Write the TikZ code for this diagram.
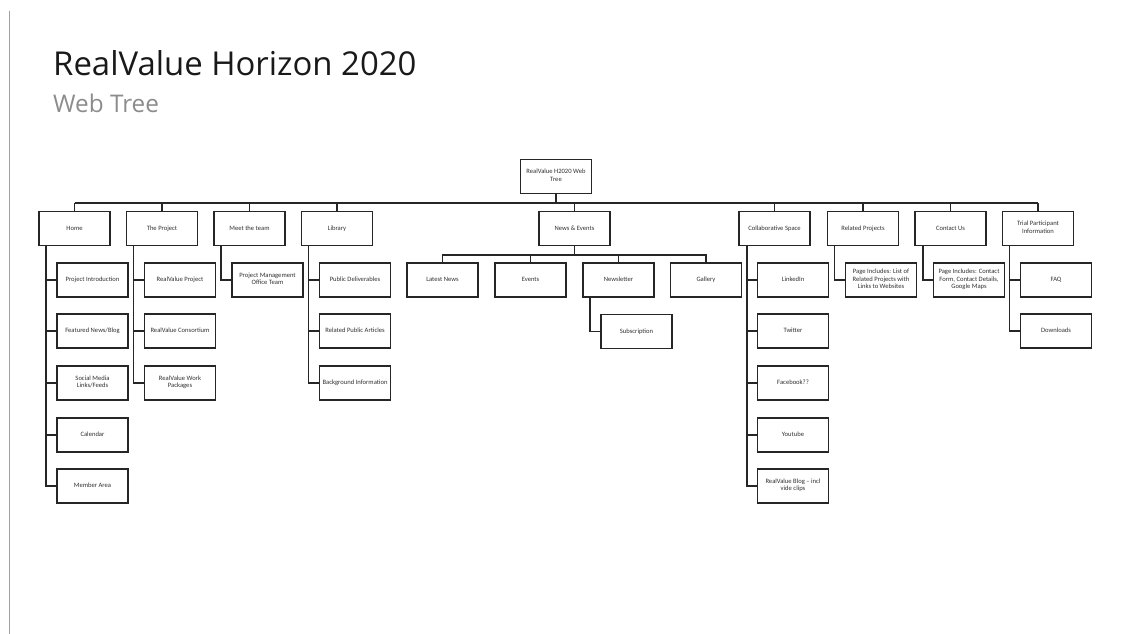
\documentclass[tikz,border=0pt]{standalone}
\usepackage{fontspec}
\setmainfont{Carlito}
\newfontfamily\titlefont{Open Sans}
\definecolor{boxtext}{HTML}{303030}
\definecolor{subgray}{HTML}{8C8C8C}
\definecolor{rulegray}{HTML}{A0A0A0}
\begin{document}
\begin{tikzpicture}[x=1pt,y=-1pt,
  box/.style={draw=black!85, line width=1.8pt, minimum width=71pt, minimum height=34pt,
    inner sep=1pt, align=center, font=\fontsize{6.6}{7.6}\selectfont, text=boxtext,
    execute at begin node={\strut}},
  conn/.style={draw=black!85, line width=1.5pt}]
\useasboundingbox (0,0) rectangle (1132,634);
\draw[rulegray, line width=1.2pt] (9.5,11) coordinate (r1) -- (9.5,634) coordinate (r2);
\node[anchor=base west, inner sep=0pt, font=\titlefont\fontsize{32.9}{38}\selectfont, text=black!90] (title) at (53,76) {RealValue Horizon 2020};
\node[anchor=base west, inner sep=0pt, font=\titlefont\fontsize{24.3}{28}\selectfont, text=subgray] (subtitle) at (53,112) {Web Tree};

% root
\node[box] (root) at (556,176.5) {RealValue H2020 Web\\Tree};
% level 1
\node[box] (home) at (74.5,228.5) {Home};
\node[box] (proj) at (162,228.5) {The Project};
\node[box] (meet) at (249.5,228.5) {Meet the team};
\node[box] (lib) at (337,228.5) {Library};
\node[box] (news) at (574.5,228.5) {News \& Events};
\node[box] (collab) at (774.5,228.5) {Collaborative Space};
\node[box] (rel) at (863,228.5) {Related Projects};
\node[box] (contact) at (950.5,228.5) {Contact Us};
\node[box] (trial) at (1038,228.5) {Trial Participant\\Information};

\coordinate (busL) at (74.5,203);
\coordinate (busR) at (1038,203);
\draw[conn] (busL) -- (busR);
\draw[conn] (root.south) -- (root.south |- busL);
\foreach \n in {home,proj,meet,lib,news,collab,rel,contact,trial}
  \draw[conn] (\n.north) -- (\n.north |- busL);

% Home children
\node[box] (h1) at (92.5,280) {Project Introduction};
\node[box] (h2) at (92.5,331) {Featured News/Blog};
\node[box] (h3) at (92.5,383) {Social Media\\Links/Feeds};
\node[box] (h4) at (92.5,435) {Calendar};
\node[box] (h5) at (92.5,486) {Member Area};
\draw[conn] ([xshift=8pt]home.south west) coordinate (hs) |- (h5.west);
\foreach \c in {h1,h2,h3,h4} \draw[conn] (\c.west) -- (\c.west -| hs);

% The Project children
\node[box] (p1) at (180,280) {RealValue Project};
\node[box] (p2) at (180,331) {RealValue Consortium};
\node[box] (p3) at (180,383) {RealValue Work\\Packages};
\draw[conn] ([xshift=8pt]proj.south west) coordinate (ps) |- (p3.west);
\foreach \c in {p1,p2} \draw[conn] (\c.west) -- (\c.west -| ps);

% Meet the team child
\node[box] (m1) at (267.5,280) {Project Management\\Office Team};
\draw[conn] ([xshift=8pt]meet.south west) |- (m1.west);

% Library children
\node[box] (l1) at (355,280) {Public Deliverables};
\node[box] (l2) at (355,331) {Related Public Articles};
\node[box] (l3) at (355,383) {Background Information};
\draw[conn] ([xshift=8pt]lib.south west) coordinate (ls) |- (l3.west);
\foreach \c in {l1,l2} \draw[conn] (\c.west) -- (\c.west -| ls);

% News & Events children
\node[box] (n1) at (442.5,280) {Latest News};
\node[box] (n2) at (530.5,280) {Events};
\node[box] (n3) at (618.5,280) {Newsletter};
\node[box] (n4) at (706,280) {Gallery};
\coordinate (nbus) at (574.5,255);
\draw[conn] (news.south) -- (nbus);
\draw[conn] (n1.north) |- (nbus) -| (n4.north);
\foreach \c in {n2,n3} \draw[conn] (\c.north) -- (\c.north |- nbus);
\node[box] (n31) at (636.5,331.5) {Subscription};
\draw[conn] ([xshift=8pt]n3.south west) |- (n31.west);

% Collaborative Space children
\node[box] (c1) at (793,280) {LinkedIn};
\node[box] (c2) at (793,331) {Twitter};
\node[box] (c3) at (793,383) {Facebook??};
\node[box] (c4) at (793,435) {Youtube};
\node[box] (c5) at (793,486) {RealValue Blog -- incl\\vide clips};
\draw[conn] ([xshift=9pt]collab.south west) coordinate (cs) |- (c5.west);
\foreach \c in {c1,c2,c3,c4} \draw[conn] (\c.west) -- (\c.west -| cs);

% Related Projects child
\node[box] (rp1) at (881,280) {Page Includes: List of\\Related Projects with\\Links to Websites};
\draw[conn] ([xshift=8pt]rel.south west) |- (rp1.west);

% Contact Us child
\node[box] (cu1) at (969,280) {Page Includes: Contact\\Form, Contact Details,\\Google Maps};
\draw[conn] ([xshift=9pt]contact.south west) |- (cu1.west);

% Trial children
\node[box] (t1) at (1056,280) {FAQ};
\node[box] (t2) at (1056,331) {Downloads};
\draw[conn] ([xshift=8pt]trial.south west) coordinate (ts) |- (t2.west);
\draw[conn] (t1.west) -- (t1.west -| ts);
\end{tikzpicture}
\end{document}
